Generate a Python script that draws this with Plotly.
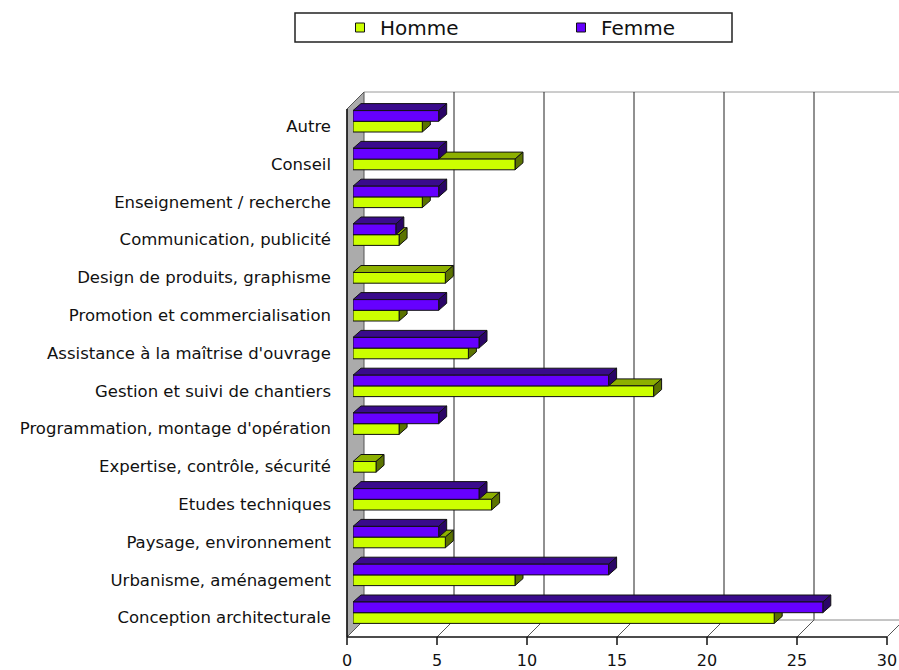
import plotly.graph_objects as go

# ---------------- data (bottom to top) ----------------
categories = [
    "Conception architecturale",
    "Urbanisme, aménagement",
    "Paysage, environnement",
    "Etudes techniques",
    "Expertise, contrôle, sécurité",
    "Programmation, montage d'opération",
    "Gestion et suivi de chantiers",
    "Assistance à la maîtrise d'ouvrage",
    "Promotion et commercialisation",
    "Design de produits, graphisme",
    "Communication, publicité",
    "Enseignement / recherche",
    "Conseil",
    "Autre",
]
homme = [23.4, 9.0, 5.13, 7.7, 1.28, 2.56, 16.7, 6.41, 2.56, 5.13, 2.56, 3.85, 9.0, 3.85]
femme = [26.1, 14.2, 4.76, 7.0, 0, 4.76, 14.2, 7.0, 4.76, 0, 2.38, 4.76, 4.76, 4.76]
x_ticks = [0, 5, 10, 15, 20, 25, 30]
series_names = ["Homme", "Femme"]

# ---------------- styling / geometry ----------------
W, H = 899, 670
ML, MT, MB = 353, 92, 33          # plot area: x 353..899, y 92..637
PX_PER_UNIT = 18.0                # px per value unit
PX_PER_CAT = 37.8                 # px per category
CAT0_PX = 612.7                   # pixel y of category 0 boundary
FRONT_SHIFT = -6                  # front floor plane relative to bar plane (px)
BACK_SHIFT = 11                   # back wall plane relative to bar plane (px)
DEPTH_X, DEPTH_Y = 17, 17         # floor depth in px
BAR_H_PX = 10.7
BAR_DX_PX, BAR_DY_PX = 8, 7

PW = W - ML
PH = H - MT - MB
x_max = PW / PX_PER_UNIT
y_lo = (CAT0_PX - (H - MB)) / PX_PER_CAT
y_hi = (CAT0_PX - MT) / PX_PER_CAT

bh = BAR_H_PX / PX_PER_CAT
ddx = BAR_DX_PX / PX_PER_UNIT
ddy = BAR_DY_PX / PX_PER_CAT

colors = {"Homme": ("#CCFF00", "#8DB000", "#5B7300"),
          "Femme": ("#6600FF", "#3A0B8C", "#2A0566")}

FONT = "DejaVu Sans"


def px2x(px):
    return (px - ML) / PW


def py2y(py):
    return (H - MB - py) / PH


shapes = []
back0 = ML + BACK_SHIFT
front0 = ML + FRONT_SHIFT
floor_back_py = H - MB - DEPTH_Y
floor_front_py = H - MB
top_py = MT
# back wall top edge
shapes.append(dict(type="line", xref="paper", yref="paper",
                   x0=px2x(back0), x1=px2x(W), y0=py2y(top_py), y1=py2y(top_py),
                   line=dict(color="#9a9a9a", width=1), layer="below"))
# left wall
shapes.append(dict(type="path", xref="paper", yref="paper",
                   path=(f"M {px2x(front0)},{py2y(floor_front_py)} "
                         f"L {px2x(front0)},{py2y(top_py + DEPTH_Y)} "
                         f"L {px2x(back0)},{py2y(top_py)} "
                         f"L {px2x(back0)},{py2y(floor_back_py)} Z"),
                   fillcolor="#ababab", line=dict(color="#555555", width=1), layer="below"))
# back wall gridlines
for v in x_ticks[1:]:
    gx = back0 + v * PX_PER_UNIT
    if gx < W:
        shapes.append(dict(type="line", xref="paper", yref="paper",
                           x0=px2x(gx), x1=px2x(gx), y0=py2y(top_py), y1=py2y(floor_back_py),
                           line=dict(color="#222222", width=1), layer="below"))
# floor back edge
shapes.append(dict(type="line", xref="paper", yref="paper",
                   x0=px2x(back0), x1=px2x(W), y0=py2y(floor_back_py), y1=py2y(floor_back_py),
                   line=dict(color="#8a8a8a", width=1), layer="below"))
# floor diagonals + front ticks
for v in x_ticks:
    fx = front0 + v * PX_PER_UNIT
    if v > 0:
        shapes.append(dict(type="line", xref="paper", yref="paper",
                           x0=px2x(fx), x1=px2x(fx + DEPTH_X),
                           y0=py2y(floor_front_py), y1=py2y(floor_back_py),
                           line=dict(color="#555555", width=1), layer="below"))
    shapes.append(dict(type="line", xref="paper", yref="paper",
                       x0=px2x(fx), x1=px2x(fx), y0=py2y(floor_front_py), y1=py2y(floor_front_py + 8),
                       line=dict(color="#111111", width=1.5), layer="above"))
# floor front edge
shapes.append(dict(type="line", xref="paper", yref="paper",
                   x0=px2x(front0), x1=px2x(front0 + x_ticks[-1] * PX_PER_UNIT),
                   y0=py2y(floor_front_py), y1=py2y(floor_front_py),
                   line=dict(color="#111111", width=1.5), layer="above"))
# left wall front edge
shapes.append(dict(type="line", xref="paper", yref="paper",
                   x0=px2x(front0), x1=px2x(front0), y0=py2y(floor_front_py), y1=py2y(top_py + DEPTH_Y),
                   line=dict(color="#111111", width=1.5), layer="above"))

# 3D faces of bars (data coordinates)
for name, vals, sign in (("Homme", homme, -1), ("Femme", femme, 1)):
    _, top_c, side_c = colors[name]
    for i, v in enumerate(vals):
        if not v:
            continue
        y0 = i if sign > 0 else i - bh
        y1 = y0 + bh
        shapes.append(dict(type="path", xref="x", yref="y", layer="between",
                           path=f"M 0,{y1} L {v},{y1} L {v+ddx},{y1+ddy} L {ddx},{y1+ddy} Z",
                           fillcolor=top_c, line=dict(color="#111111", width=1)))
        shapes.append(dict(type="path", xref="x", yref="y", layer="between",
                           path=f"M {v},{y0} L {v+ddx},{y0+ddy} L {v+ddx},{y1+ddy} L {v},{y1} Z",
                           fillcolor=side_c, line=dict(color="#111111", width=1)))

# legend box
shapes.append(dict(type="rect", xref="paper", yref="paper",
                   x0=px2x(295), x1=px2x(732), y0=py2y(13), y1=py2y(42),
                   fillcolor="white", line=dict(color="#222222", width=1.5), layer="above"))

fig = go.Figure()
ypos = list(range(len(categories)))
for name, vals, sign in (("Homme", homme, -1), ("Femme", femme, 1)):
    front_c = colors[name][0]
    fig.add_trace(go.Bar(
        name=name, orientation="h",
        x=[v if v else None for v in vals],
        y=[i + sign * bh / 2 for i in ypos],
        width=bh, base=0,
        marker=dict(color=front_c, line=dict(color="#111111", width=1)),
        showlegend=False,
    ))

for k, name in enumerate(series_names):
    fig.add_trace(go.Scatter(
        x=[None], y=[None], mode="markers", name=name,
        marker=dict(symbol="square", size=9, color=colors[name][0],
                    line=dict(color="#111111", width=1)),
        legend="legend" if k == 0 else "legend2", showlegend=True,
    ))

legend_common = dict(orientation="h", yanchor="middle", xanchor="left",
                     bgcolor="rgba(0,0,0,0)", borderwidth=0,
                     font=dict(family=FONT, size=20, color="#111111"))

fig.update_layout(
    width=W, height=H,
    margin=dict(l=ML, r=0, t=MT, b=MB, pad=0),
    paper_bgcolor="white", plot_bgcolor="white",
    barmode="overlay",
    shapes=shapes,
    legend=dict(x=px2x(340), y=py2y(27.5), **legend_common),
    legend2=dict(x=px2x(561), y=py2y(27.5), **legend_common),
    xaxis=dict(range=[0, x_max], tickmode="array", tickvals=x_ticks,
               ticktext=[str(t) for t in x_ticks], showgrid=False, zeroline=False,
               showline=False, ticks="", ticklabelshift=FRONT_SHIFT,
               ticklabelstandoff=12, fixedrange=True,
               tickfont=dict(family=FONT, size=16, color="#111111")),
    yaxis=dict(range=[y_lo, y_hi], tickmode="array", tickvals=ypos, ticktext=categories,
               showgrid=False, zeroline=False, showline=False, ticks="",
               ticklabelshift=5, ticklabelstandoff=21, fixedrange=True,
               tickfont=dict(family=FONT, size=16.5, color="#111111")),
)

fig.write_html("out.html", config={"displayModeBar": False},
               post_script="document.body.style.margin='0px';")
